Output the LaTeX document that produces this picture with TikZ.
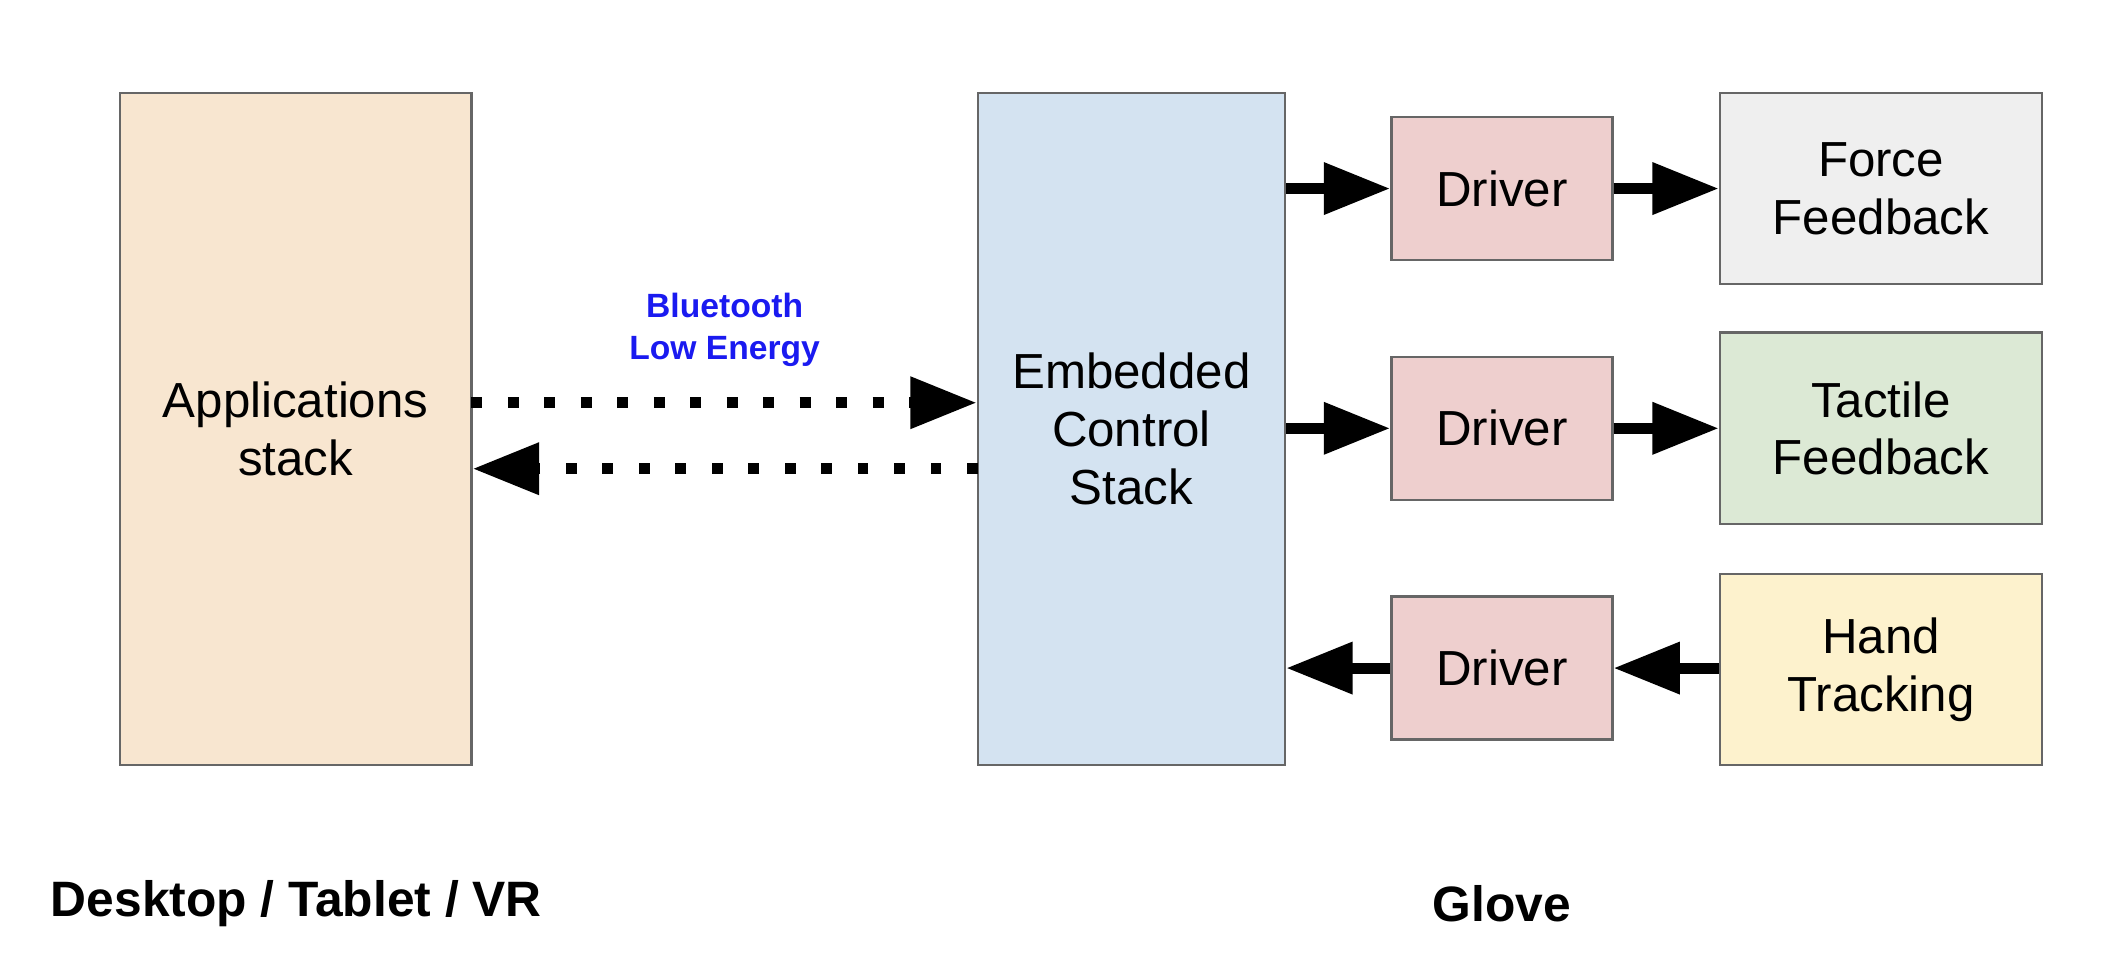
\documentclass[tikz,border=0pt]{standalone}
\usepackage{fontspec}
\setmainfont{Liberation Sans}
\usetikzlibrary{arrows.meta}
\definecolor{appfill}{HTML}{F8E6D0}
\definecolor{ecsfill}{HTML}{D4E3F1}
\definecolor{drvfill}{HTML}{EECFCE}
\definecolor{forcefill}{HTML}{EFEFEF}
\definecolor{tactfill}{HTML}{DCE9D5}
\definecolor{handfill}{HTML}{FDF2CD}
\definecolor{bleblue}{HTML}{1A1AF0}
\tikzset{
  box/.style={draw=black!60, line width=0.5pt, align=center, font=\fontsize{10.4}{12.2}\selectfont, inner sep=0pt},
  drv/.style={box, fill=drvfill, minimum width=1.64cm, minimum height=1.06cm},
  periph/.style={box, minimum width=2.39cm, minimum height=1.42cm},
  link/.style={line width=2.3pt, -{Triangle[length=14pt,width=10.5pt]}},
  ble/.style={link, dash pattern=on 2.3pt off 5.4pt}
}
\begin{document}
\begin{tikzpicture}[x=0.01cm,y=-0.01cm]
  \useasboundingbox (0,0) rectangle (1568,725);

  % Left side
  \node[box, fill=appfill, minimum width=2.61cm, minimum height=4.99cm] (app) at (219.5,318.5) {Applications\\stack};

  % Glove side
  \node[box, fill=ecsfill, minimum width=2.28cm, minimum height=4.99cm] (ecs) at (840,318.5) {Embedded\\Control\\Stack};
  \node[drv] (drvA) at (1115,140) {Driver};
  \node[drv] (drvB) at (1115,318) {Driver};
  \node[drv] (drvC) at (1115,496) {Driver};
  \node[periph, fill=forcefill] (force) at (1396.5,140) {Force\\Feedback};
  \node[periph, fill=tactfill] (tact) at (1396.5,318) {Tactile\\Feedback};
  \node[periph, fill=handfill] (hand) at (1396.5,497) {Hand\\Tracking};

  % Bluetooth link
  \coordinate (bleR) at (350,299);
  \coordinate (bleL) at (726,348);
  \draw[ble] (bleR) -- (bleR -| ecs.west);
  \draw[ble] (bleL) -- (bleL -| app.east);
  \node[text=bleblue, font=\bfseries\fontsize{7.1}{8.8}\selectfont, align=center] (blelbl) at (538,245) {Bluetooth\\Low Energy};

  % Glove links
  \draw[link] (ecs.east |- drvA) -- (drvA.west);
  \draw[link] (drvA) -- (force);
  \draw[link] (ecs.east |- drvB) -- (drvB.west);
  \draw[link] (drvB) -- (tact);
  \draw[link] (hand.west |- drvC) -- (drvC.east);
  \draw[link] (drvC.west) -- (ecs.east |- drvC);

  % Captions
  \node[font=\bfseries\fontsize{10.5}{12}\selectfont] (hostlbl) at (220,671) {Desktop / Tablet / VR};
  \node[font=\bfseries\fontsize{10.5}{12}\selectfont] (glovelbl) at (1115,671) {Glove};
\end{tikzpicture}
\end{document}
